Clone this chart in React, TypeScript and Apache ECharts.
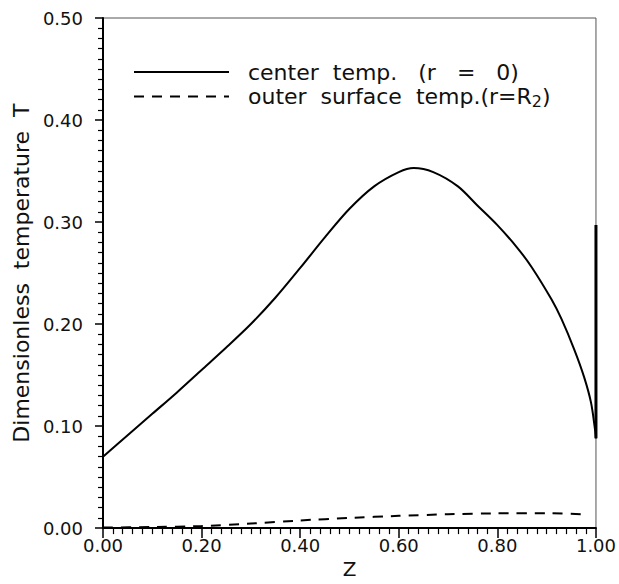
import React, { useEffect, useRef } from "react";
import * as echarts from "echarts";

const centerZ = [0.0, 0.05, 0.1, 0.15, 0.2, 0.25, 0.3, 0.35, 0.4, 0.45, 0.5, 0.55, 0.6, 0.63, 0.67, 0.72, 0.76, 0.8, 0.84, 0.87, 0.91, 0.93, 0.956, 0.976, 0.99, 0.998, 1.0];
const centerT = [0.07, 0.091, 0.112, 0.133, 0.155, 0.177, 0.2, 0.226, 0.255, 0.285, 0.313, 0.335, 0.349, 0.353, 0.349, 0.335, 0.316, 0.297, 0.275, 0.2555, 0.224, 0.205, 0.175, 0.148, 0.123, 0.097, 0.088];

const outerZ = [0.0, 0.1, 0.2, 0.3, 0.4, 0.5, 0.6, 0.7, 0.8, 0.9, 0.98];
const outerT = [0.0005, 0.001, 0.002, 0.0045, 0.0075, 0.01, 0.012, 0.0136, 0.0145, 0.0146, 0.0135];

const edgeZ = [1.0, 1.0];
const edgeT = [0.088, 0.297];

const xTicks = [0, 0.2, 0.4, 0.6, 0.8, 1.0];
const yTicks = [0, 0.1, 0.2, 0.3, 0.4, 0.5];

const seriesNames = ["center temp. (r = 0)", "outer surface temp.(r=R2)"];

const zip = (a: number[], b: number[]) => a.map((v, i) => [v, b[i]]);

export default function App() {
  const ref = useRef<HTMLDivElement>(null);
  useEffect(() => {
    if (!ref.current) return;
    const chart = echarts.init(ref.current, null, { renderer: "svg" });
    const font = "DejaVu Sans";
    chart.setOption({
      animation: false,
      backgroundColor: "#ffffff",
      grid: {
        left: 103,
        right: 17,
        top: 18,
        bottom: 51,
        show: true,
        borderColor: "#555",
        borderWidth: 1,
      },
      legend: {
        data: seriesNames,
        orient: "vertical",
        left: 133,
        top: 61,
        padding: 0,
        itemWidth: 95,
        itemHeight: 14,
        itemGap: 1,
        selectedMode: false,
        itemStyle: { opacity: 0 },
        textStyle: {
          fontFamily: font,
          fontSize: 22,
          color: "#111",
          lineHeight: 22,
          rich: {
            a: { fontFamily: font, fontSize: 22, color: "#111", lineHeight: 22 },
            s: { fontFamily: font, fontSize: 16, color: "#111", lineHeight: 22, padding: [9, 0, 0, 0] },
          },
        },
        formatter: (name: string) =>
          name === seriesNames[0]
            ? "{a|  center  temp.   (r   =   0)}"
            : "{a|  outer  surface  temp.(r=R}{s|2}{a|)}",
      },
      xAxis: {
        type: "value",
        min: 0,
        max: 1,
        interval: 0.2,
        name: "Z",
        nameLocation: "middle",
        nameGap: 27,
        nameTextStyle: { fontFamily: font, fontSize: 20, color: "#111" },
        axisLine: { lineStyle: { color: "#000", width: 2 } },
        axisTick: { show: true, length: 10, lineStyle: { color: "#000", width: 1.5 } },
        minorTick: { show: true, splitNumber: 10, length: 6, lineStyle: { color: "#000", width: 1.2 } },
        splitLine: { show: false },
        axisLabel: {
          margin: 8,
          fontFamily: font,
          fontSize: 18,
          color: "#111",
          formatter: (v: number) => (xTicks.some((t) => Math.abs(t - v) < 1e-9) ? v.toFixed(2) : ""),
        },
      },
      yAxis: {
        type: "value",
        min: 0,
        max: 0.5,
        interval: 0.1,
        name: "Dimensionless  temperature  T",
        nameLocation: "middle",
        nameGap: 64,
        nameTextStyle: { fontFamily: font, fontSize: 22, color: "#111" },
        axisLine: { lineStyle: { color: "#000", width: 2 } },
        axisTick: { show: true, length: 8, lineStyle: { color: "#000", width: 1.5 } },
        minorTick: { show: true, splitNumber: 10, length: 5, lineStyle: { color: "#000", width: 1.2 } },
        splitLine: { show: false },
        axisLabel: {
          margin: 20,
          fontFamily: font,
          fontSize: 18,
          color: "#111",
          formatter: (v: number) => (yTicks.some((t) => Math.abs(t - v) < 1e-9) ? v.toFixed(2) : ""),
        },
      },
      series: [
        {
          name: seriesNames[0],
          type: "line",
          data: zip(centerZ, centerT),
          showSymbol: false,
          symbol: "none",
          smooth: 0.3,
          lineStyle: { color: "#000", width: 2 },
          itemStyle: { color: "#000" },
        },
        {
          name: seriesNames[1],
          type: "line",
          data: zip(outerZ, outerT),
          showSymbol: false,
          symbol: "none",
          smooth: 0.2,
          lineStyle: { color: "#000", width: 2, type: [10, 8] },
          itemStyle: { color: "#000" },
        },
        {
          name: "edge",
          type: "line",
          data: zip(edgeZ, edgeT),
          showSymbol: false,
          symbol: "none",
          lineStyle: { color: "#000", width: 3 },
          itemStyle: { color: "#000" },
        },
      ],
    });
    return () => chart.dispose();
  }, []);
  return (
    <div
      ref={ref}
      style={{ position: "fixed", left: 0, top: 0, width: 619, height: 584, background: "#fff" }}
    />
  );
}
